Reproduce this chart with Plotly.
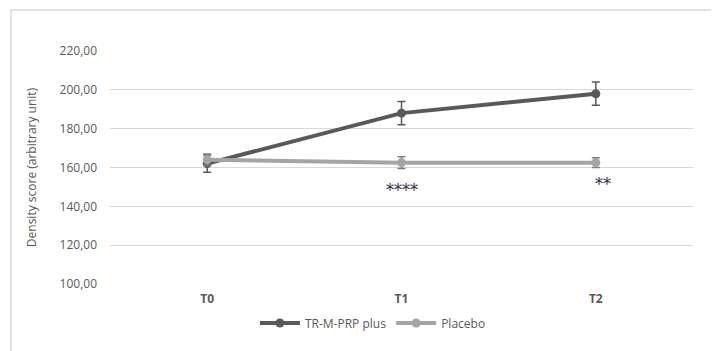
import plotly.graph_objects as go

categories = ["T0", "T1", "T2"]
tr_values = [162.0, 188.0, 198.0]
tr_errors = [4.5, 6.0, 6.0]
placebo_values = [164.0, 162.5, 162.5]
placebo_errors = [3.0, 3.0, 2.5]
tick_vals = [100, 120, 140, 160, 180, 200, 220]
tick_text = ["100,00", "120,00", "140,00", "160,00", "180,00", "200,00", "220,00"]
sig_labels = ["****", "**"]
sig_x = ["T1", "T2"]
sig_y = [148, 151.5]

# page body has an 8px margin, so the figure is offset by (8, 8)
W, H = 711, 343
L, R, T, B = 102, 26, 43, 67
pw, ph = W - L - R, H - T - B

fig = go.Figure()
fig.add_trace(go.Scatter(
    x=categories, y=tr_values, name="TR-M-PRP plus", mode="lines+markers",
    line=dict(color="#595959", width=4), marker=dict(color="#595959", size=9),
    error_y=dict(type="data", array=tr_errors, color="#595959", thickness=1.5, width=4)))
fig.add_trace(go.Scatter(
    x=categories, y=placebo_values, name="Placebo", mode="lines+markers",
    line=dict(color="#a5a5a5", width=4), marker=dict(color="#a5a5a5", size=9),
    error_y=dict(type="data", array=placebo_errors, color="#7f7f7f", thickness=1.5, width=4)))

for lab, xx, yy in zip(sig_labels, sig_x, sig_y):
    fig.add_annotation(x=xx, y=yy, text=lab, showarrow=False,
                       xshift=7 if lab == "**" else 0,
                       font=dict(size=16, color="#1f2a44", family="DejaVu Serif"))

fig.add_shape(type="rect", xref="paper", yref="paper",
              x0=(3 - L) / pw, x1=(W + 10 - L) / pw,
              y0=(H - B - (H + 10)) / ph, y1=(H - B - 2) / ph,
              line=dict(color="#d9d9d9", width=1.5), layer="below")

fig.update_layout(
    width=W, height=H, margin=dict(l=L, r=R, t=T, b=B, autoexpand=False),
    paper_bgcolor="white", plot_bgcolor="white",
    font=dict(family="Open Sans, Liberation Sans, sans-serif", color="#595959", size=12),
    showlegend=True,
    legend=dict(orientation="h", x=0.451, xanchor="center", y=-0.105, yanchor="top",
                font=dict(size=12, color="#595959"), itemwidth=40),
    xaxis=dict(type="category", range=[-0.5, 2.5], showgrid=False, zeroline=False, showline=False,
               automargin=False,
               tickfont=dict(size=12, color="#595959", family="Open Sans"),
               ticktext=["<b>T0</b>", "<b>T1</b>", "<b>T2</b>"], tickvals=categories,
               ticks="", ticklabelstandoff=6),
    yaxis=dict(range=[100, 220], tickvals=tick_vals, ticktext=tick_text, automargin=False,
               showgrid=True, gridcolor="#d9d9d9", gridwidth=1.3, zeroline=False,
               showline=False, ticks="", ticklabelstandoff=12,
               tickfont=dict(size=12, color="#595959"),
               title=dict(text="Density score (arbitrary unit)", standoff=20,
                          font=dict(size=12, color="#595959"))),
)

fig.write_html("out.html")
